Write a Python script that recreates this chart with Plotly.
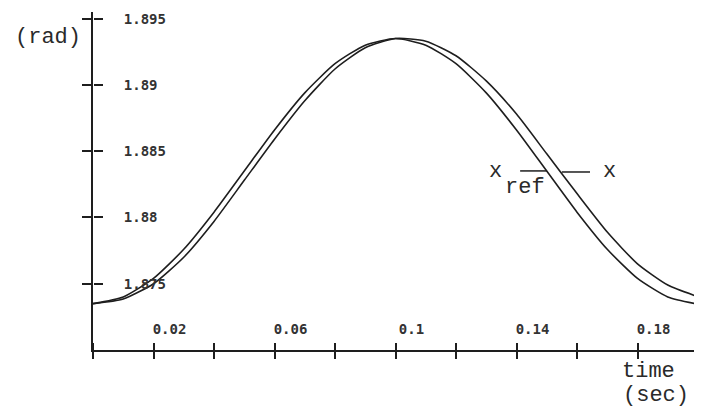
import plotly.graph_objects as go

# time samples (s)
time_s = [0.00, 0.01, 0.02, 0.03, 0.04, 0.05, 0.06, 0.07, 0.08, 0.09, 0.10,
          0.11, 0.12, 0.13, 0.14, 0.15, 0.16, 0.17, 0.18, 0.19, 0.199]
# reference trajectory x_ref (rad)
x_ref = [1.8735, 1.8740, 1.8754, 1.8776, 1.8804, 1.8835, 1.8866, 1.8894,
         1.8916, 1.8930, 1.8935, 1.8930, 1.8916, 1.8894, 1.8866, 1.8835,
         1.8804, 1.8776, 1.8754, 1.8740, 1.8735]
# actual response x (rad)
x_act = [1.8735, 1.87385, 1.8750, 1.8770, 1.8797, 1.8828, 1.8859, 1.8888,
         1.8912, 1.8928, 1.8935, 1.8933, 1.8922, 1.8903, 1.8878, 1.8848,
         1.8818, 1.8789, 1.8765, 1.8749, 1.8741]

x_ticks = [0.0, 0.02, 0.04, 0.06, 0.08, 0.10, 0.12, 0.14, 0.16, 0.18, 0.20]
x_ticktext = ["", "0.02", "", "0.06", "", "0.1", "", "0.14", "", "0.18", ""]
y_ticks = [1.875, 1.880, 1.885, 1.890, 1.895]
y_ticktext = ["1.875", "1.88", "1.885", "1.89", "1.895"]

x_range = [0.0, 0.2]
y_range = [1.870, 1.8955]

INK = "#1e1e1e"
TICKFONT = dict(family="DejaVu Sans Mono", size=14, color="#333", weight="bold")
TEXTFONT = dict(family="Liberation Mono", size=22, color="#2a2a2a")

fig = go.Figure()
fig.add_trace(go.Scatter(x=time_s, y=x_ref, mode="lines", name="x_ref",
                         line=dict(color=INK, width=1.6, shape="spline", smoothing=0.6),
                         xaxis="x", yaxis="y", showlegend=False))
fig.add_trace(go.Scatter(x=time_s, y=x_act, mode="lines", name="x",
                         line=dict(color=INK, width=1.6, shape="spline", smoothing=0.6),
                         xaxis="x2", yaxis="y2", showlegend=False))

common = dict(showgrid=False, zeroline=False, automargin=False)
# page body has an 8px margin, so the figure is sized/offset to compensate
fig.update_layout(
    width=694, height=402, autosize=False,
    margin=dict(l=85, r=4, t=4, b=60, autoexpand=False),
    paper_bgcolor="white", plot_bgcolor="white",
    xaxis=dict(range=x_range, tickvals=x_ticks, ticks="outside", ticklen=7,
               tickwidth=1.5, tickcolor=INK, showline=True, linecolor=INK,
               linewidth=2, showticklabels=False, anchor="y", **common),
    yaxis=dict(range=y_range, tickvals=y_ticks, ticks="outside", ticklen=9,
               tickwidth=1.5, tickcolor=INK, showline=True, linecolor=INK,
               linewidth=2, showticklabels=False, anchor="x", **common),
    # second x axis on the same baseline, ticks and labels pointing up
    xaxis2=dict(range=x_range, tickvals=x_ticks, ticktext=x_ticktext,
                ticks="outside", ticklen=7, tickwidth=1.5, tickcolor=INK,
                showline=False, overlaying="x", side="top", anchor="free",
                position=0, ticklabelshift=16, ticklabelstandoff=3,
                tickfont=TICKFONT, **common),
    # second y axis on the same line, ticks and labels pointing right
    yaxis2=dict(range=y_range, tickvals=y_ticks, ticktext=y_ticktext,
                ticks="outside", ticklen=9, tickwidth=1.5, tickcolor=INK,
                showline=False, overlaying="y", side="right", anchor="free",
                position=0, ticklabelstandoff=18,
                tickfont=TICKFONT, **common),
)

# axis titles
fig.add_annotation(text="(rad)", xref="paper", yref="paper", x=-0.0744, y=0.926,
                   showarrow=False, font=TEXTFONT, xanchor="center", yanchor="middle")
fig.add_annotation(text="time", xref="paper", yref="paper", x=0.919, y=-0.065,
                   showarrow=False, font=TEXTFONT, xanchor="center", yanchor="middle")
fig.add_annotation(text="(sec)", xref="paper", yref="paper", x=0.9306, y=-0.136,
                   showarrow=False, font=TEXTFONT, xanchor="center", yanchor="middle")

# curve labels
fig.add_annotation(text="x", x=0.1329, y=1.88345, showarrow=False, font=TEXTFONT,
                   xanchor="center", yanchor="middle")
fig.add_annotation(text="ref", x=0.1428, y=1.88225, showarrow=False, font=TEXTFONT,
                   xanchor="center", yanchor="middle")
fig.add_annotation(text="x", x=0.1709, y=1.88345, showarrow=False, font=TEXTFONT,
                   xanchor="center", yanchor="middle")
fig.add_shape(type="line", x0=0.1412, x1=0.1501, y0=1.88351, y1=1.88351,
              line=dict(color=INK, width=1.5))
fig.add_shape(type="line", x0=0.1550, x1=0.1643, y0=1.88343, y1=1.88343,
              line=dict(color=INK, width=1.5))

fig.write_html("out.html")
